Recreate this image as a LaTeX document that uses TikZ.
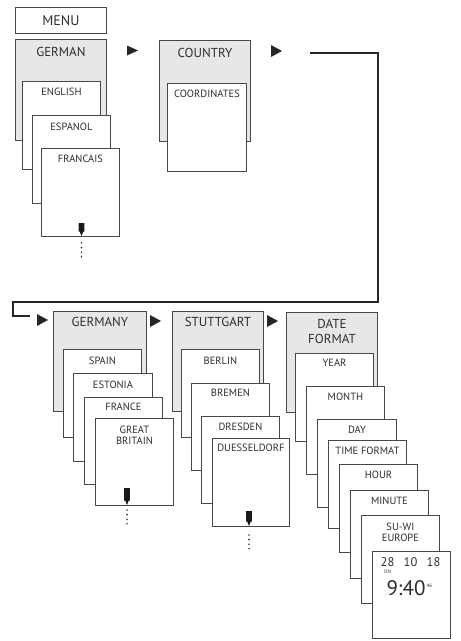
\documentclass[tikz,border=0pt]{standalone}
\usepackage{fontspec}
\setmainfont{PT Sans}
\usetikzlibrary{calc}
\definecolor{linec}{HTML}{474747}
\definecolor{boxgray}{HTML}{E6E7E9}
\definecolor{txtc}{HTML}{2E2E2E}
\tikzset{
  cardbox/.style={draw=linec, line width=0.9pt, fill=white, inner sep=0pt, anchor=north west},
  graybox/.style={cardbox, fill=boxgray},
  lbl/.style={text=txtc, inner sep=0pt, font=\fontsize{10.5}{12}\selectfont},
  biglbl/.style={text=txtc, inner sep=0pt, font=\fontsize{13}{15.5}\selectfont, align=center},
  conn/.style={draw=black!85, line width=1.3pt},
  tri/.style={fill=black!85}
}
\newcommand\mycard[6]{\node[#6, minimum width=#4pt, minimum height=#5pt] (#1) at (#2,#3) {};}
\newcommand\mytri[3]{\fill[tri] (#1,#2-#3) -- (#1+11,#2) -- (#1,#2+#3) -- cycle;}
\newcommand\downarr[3]{% x, top y, bottom y
  \fill[black!90] (#1-2.8,#2) -- (#1+2.8,#2) -- (#1+2.8,#3-4.5) -- (#1+1.8,#3-4.5) -- (#1,#3) -- (#1-1.8,#3-4.5) -- (#1-2.8,#3-4.5) -- cycle;}
\newcommand\vdotsx[2]{% x, top y
  \foreach \k in {0,1,2,3} {\fill[black!80] (#1,#2+\k*4.6) circle (0.9);}}
\begin{document}
\begin{tikzpicture}[x=1pt,y=-1pt]
\useasboundingbox (0,0) rectangle (461,641);
% MENU
\mycard{menu}{15}{7}{91}{26}{cardbox}
\node[biglbl, font=\fontsize{14}{16}\selectfont] (tmenu) at (menu.center) {MENU};
% column 1
\mycard{german}{15}{39}{91}{101}{graybox}
\node[biglbl] (tgerman) at (german.north |- 0,52) {GERMAN};
\mycard{english}{22}{81}{78}{88}{cardbox}
\node[lbl] (tenglish) at (english.north |- 0,92) {ENGLISH};
\mycard{espanol}{32}{115}{78}{88}{cardbox}
\node[lbl] (tespanol) at (espanol.north |- 0,127) {ESPANOL};
\mycard{francais}{41}{148}{78}{88}{cardbox}
\node[lbl] (tfrancais) at (francais.north |- 0,159) {FRANCAIS};
\downarr{81.5}{223}{236}
\vdotsx{81.5}{243}
\mytri{127}{50.5}{5}
% column 2
\mycard{country}{159}{40}{91}{101}{graybox}
\node[biglbl] (tcountry) at (country.north |- 0,53) {COUNTRY};
\mycard{coord}{167}{83}{79}{88}{cardbox}
\node[lbl] (tcoord) at (coord.north |- 0,94) {COORDINATES};
\mytri{271}{51}{6}
% connector
\coordinate (c1) at (310,53);
\coordinate (c2) at (30,316);
\draw[conn] (c1) -- (378,53) -- (378,302) -- (13,302) -- (13,316) -- (c2);
\mytri{37}{320}{6}
% row 2 col 1
\mycard{germany}{53}{311}{93}{100}{graybox}
\node[biglbl] (tgermany) at (germany.north |- 0,322) {GERMANY};
\mycard{spain}{63}{349}{78}{88}{cardbox}
\node[lbl] (tspain) at (spain.north |- 0,361) {SPAIN};
\mycard{estonia}{73}{373}{79}{88}{cardbox}
\node[lbl] (testonia) at (estonia.north |- 0,385) {ESTONIA};
\mycard{france}{84}{397}{78}{87}{cardbox}
\node[lbl] (tfrance) at (france.north |- 0,407) {FRANCE};
\mycard{gb}{95}{418}{78}{87}{cardbox}
\node[lbl, align=center] (tgb) at (gb.north |- 0,435.5) {GREAT\\[-1.5pt]BRITAIN};
\downarr{127}{488}{505}
\vdotsx{127}{510}
\mytri{150}{321}{6}
% row 2 col 2
\mycard{stuttgart}{172}{311}{91}{100}{graybox}
\node[biglbl] (tstuttgart) at (stuttgart.north |- 0,322) {STUTTGART};
\mycard{berlin}{181}{349}{78}{88}{cardbox}
\node[lbl] (tberlin) at (berlin.north |- 0,361) {BERLIN};
\mycard{bremen}{191}{383}{78}{87}{cardbox}
\node[lbl] (tbremen) at (bremen.north |- 0,393) {BREMEN};
\mycard{dresden}{201}{416}{78}{87}{cardbox}
\node[lbl] (tdresden) at (dresden.north |- 0,427) {DRESDEN};
\mycard{duess}{212}{438}{77}{88}{cardbox}
\node[lbl] (tduess) at (duess.north |- 0,448) {DUESSELDORF};
\downarr{249}{511}{526}
\vdotsx{249}{535}
\mytri{267}{321}{6}
% row 2 col 3
\mycard{datef}{286}{312}{91}{100}{graybox}
\node[biglbl] (tdatef) at (datef.north |- 0,331.5) {DATE\\[-1pt]FORMAT};
\mycard{year}{295}{353}{78}{88}{cardbox}
\node[lbl] (tyear) at (year.north |- 0,363) {YEAR};
\mycard{month}{306}{386}{78}{88}{cardbox}
\node[lbl] (tmonth) at (month.north |- 0,397) {MONTH};
\mycard{day}{317}{419}{79}{88}{cardbox}
\node[lbl] (tday) at (day.north |- 0,430) {DAY};
\mycard{timef}{328}{440}{78}{88}{cardbox}
\node[lbl] (ttimef) at (timef.north |- 0,451) {TIME FORMAT};
\mycard{hour}{339}{464}{78}{88}{cardbox}
\node[lbl] (thour) at (hour.north |- 0,475) {HOUR};
\mycard{minute}{350}{490}{78}{88}{cardbox}
\node[lbl] (tminute) at (minute.north |- 0,501) {MINUTE};
\mycard{suwi}{361}{515}{78}{88}{cardbox}
\node[lbl, align=center] (tsuwi) at (suwi.north |- 0,532.5) {SU-WI\\[-1pt]EUROPE};
\mycard{disp}{372}{551}{78}{87}{cardbox}
\node[lbl, font=\fontsize{12.5}{14}\selectfont] (d28) at (387.5,562) {28};
\node[lbl, font=\fontsize{12.5}{14}\selectfont] (d10) at (410.5,562) {10};
\node[lbl, font=\fontsize{12.5}{14}\selectfont] (d18) at (433.5,562) {18};
\node[lbl, font=\fontsize{5}{6}\selectfont] (don) at (387.5,571.5) {ON};
\node[lbl, font=\fontsize{21}{24}\selectfont] (dtime) at (406,588) {9:40};
\node[lbl, font=\fontsize{5}{6}\selectfont, anchor=west] (dsec) at (dtime.east |- 0,585.5) {\,46};
\end{tikzpicture}
\end{document}
